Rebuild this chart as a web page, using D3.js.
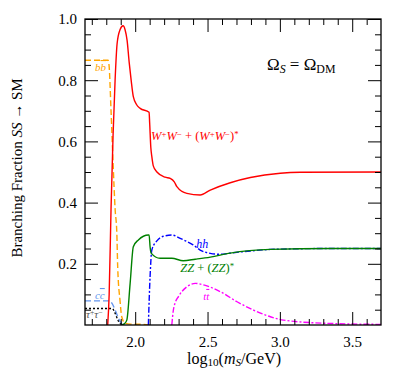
<!DOCTYPE html>
<html><head><meta charset="utf-8">
<script src="https://cdn.jsdelivr.net/npm/d3@7"></script>
<style>body{margin:0;background:#fff} svg{display:block} svg text{font-family:"Liberation Serif","DejaVu Serif",serif}</style>
</head><body><svg id="c" width="415" height="383"></svg>
<script>
// ---- data (x = log10(m_S/GeV), y = branching fraction) ----
const bbX = [1.653, 1.812, 1.819, 1.833, 1.847, 1.861, 1.873, 1.879, 1.895, 1.907, 1.930, 1.970, 2.050, 2.100];
const bbY = [0.865, 0.865, 0.850, 0.700, 0.530, 0.380, 0.300, 0.190, 0.080, 0.027, 0.006, 0.003, 0.002, 0.000];
const ccX = [1.653, 1.821, 1.907, 1.930];
const ccY = [0.079, 0.079, 0.005, 0.000];
const tauX = [1.653, 1.838, 1.895, 1.920];
const tauY = [0.054, 0.054, 0.005, 0.000];
const wwX = [1.810, 1.820, 1.833, 1.847, 1.861, 1.875, 1.895, 1.916, 1.930, 1.944, 1.958, 1.972, 1.987, 2.011, 2.034, 2.096, 2.100, 2.108, 2.115, 2.125, 2.150, 2.207, 2.242, 2.270, 2.288, 2.357, 2.449, 2.519, 2.657, 2.796, 3.003, 3.142, 3.699];
const wwY = [0.000, 0.100, 0.380, 0.620, 0.800, 0.920, 0.965, 0.978, 0.965, 0.930, 0.860, 0.800, 0.746, 0.719, 0.708, 0.695, 0.660, 0.580, 0.550, 0.520, 0.500, 0.483, 0.479, 0.468, 0.452, 0.430, 0.425, 0.441, 0.465, 0.482, 0.496, 0.499, 0.500];
const zzX = [1.907, 1.925, 1.942, 1.965, 1.987, 2.022, 2.091, 2.096, 2.103, 2.110, 2.172, 2.253, 2.332, 2.415, 2.519, 2.657, 2.934, 3.349, 3.699];
const zzY = [0.000, 0.004, 0.016, 0.136, 0.256, 0.278, 0.294, 0.294, 0.255, 0.235, 0.218, 0.218, 0.210, 0.215, 0.222, 0.235, 0.247, 0.250, 0.250];
const hhX = [2.091, 2.103, 2.115, 2.150, 2.195, 2.253, 2.311, 2.357, 2.400, 2.449, 2.519, 2.588, 2.657, 2.800, 2.934, 3.349, 3.699];
const hhY = [0.000, 0.160, 0.245, 0.275, 0.290, 0.294, 0.283, 0.273, 0.262, 0.245, 0.234, 0.231, 0.235, 0.242, 0.247, 0.250, 0.250];
const ttX = [2.253, 2.264, 2.276, 2.299, 2.357, 2.415, 2.472, 2.588, 2.704, 2.816, 2.934, 3.024, 3.349, 3.699];
const ttY = [0.000, 0.049, 0.072, 0.093, 0.125, 0.136, 0.131, 0.109, 0.076, 0.049, 0.027, 0.016, 0.005, 0.002];

const xMajor = [2.0, 2.5, 3.0, 3.5];
const yMajor = [0.2, 0.4, 0.6, 0.8, 1.0];
const xDomain = [1.653, 3.699];
const yDomain = [0, 1];

// ---- layout ----
const L = 85, R = 381, T = 19, B = 325;
const svg = d3.select('#c');
const x = d3.scaleLinear().domain(xDomain).range([L, R]);
const y = d3.scaleLinear().domain(yDomain).range([B, T]);

svg.append('clipPath').attr('id', 'clip').append('rect')
  .attr('x', L).attr('y', T).attr('width', R - L).attr('height', B - T);

const series = [
  {X: bbX, Y: bbY, color: '#ffa500', dash: '6,3', w: 1.4},
  {X: ccX, Y: ccY, color: '#6495ed', dash: '6,3', w: 1.4},
  {X: tauX, Y: tauY, color: '#000000', dash: '2,2', w: 1.3},
  {X: ttX, Y: ttY, color: '#ff00ff', dash: '6,2,2,2', w: 1.4},
  {X: hhX, Y: hhY, color: '#0000ff', dash: '6,2,2,2', w: 1.4},
  {X: zzX, Y: zzY, color: '#008000', dash: null, w: 1.4},
  {X: wwX, Y: wwY, color: '#ff0000', dash: null, w: 1.4},
];
const line = d3.line().x(d => x(d[0])).y(d => y(d[1])).curve(d3.curveMonotoneX);
const g = svg.append('g').attr('clip-path', 'url(#clip)');
series.forEach(s => {
  g.append('path').datum(s.X.map((v, i) => [v, s.Y[i]]))
    .attr('d', line).attr('fill', 'none').attr('stroke', s.color)
    .attr('stroke-width', s.w).attr('stroke-dasharray', s.dash);
});

// ---- axes ----
const xMinor = d3.range(17, 37).map(d => d / 10).filter(v => !xMajor.some(m => Math.abs(m - v) < 1e-6));
const yMinor = d3.range(1, 20).map(d => d / 20).filter(v => !yMajor.some(m => Math.abs(m - v) < 1e-6));
const fmt = d3.format('.1f');
function ax(gen, tr, vals, size, labels) {
  const a = svg.append('g').attr('transform', tr)
    .call(gen.tickValues(vals).tickSizeInner(-size).tickSizeOuter(0).tickPadding(8)
      .tickFormat(labels ? fmt : ''));
  a.attr('font-family', null).attr('font-size', null);
  a.select('.domain').remove();
  a.selectAll('line').attr('stroke', '#000').attr('stroke-width', 1);
  a.selectAll('text').style('font-size', '15px').attr('fill', '#000');
  return a;
}
ax(d3.axisBottom(x), `translate(0,${B})`, xMajor, 13, true).selectAll('text').attr('dy', '0.95em');
ax(d3.axisBottom(x), `translate(0,${B})`, xMinor, 6, false);
ax(d3.axisTop(x), `translate(0,${T})`, xMajor, 13, false);
ax(d3.axisTop(x), `translate(0,${T})`, xMinor, 6, false);
ax(d3.axisLeft(y), `translate(${L},0)`, yMajor, 13, true);
ax(d3.axisLeft(y), `translate(${L},0)`, yMinor, 6, false);
ax(d3.axisRight(y), `translate(${R},0)`, yMajor, 13, false);
ax(d3.axisRight(y), `translate(${R},0)`, yMinor, 6, false);

svg.append('rect').attr('x', L).attr('y', T).attr('width', R - L).attr('height', B - T)
  .attr('fill', 'none').attr('stroke', '#000').attr('stroke-width', 1.3);

// ---- rich text helper ----
function rich(sel, parts, size) {
  parts.forEach(p => {
    const [txt, st] = p;
    const t = sel.append('tspan').text(txt);
    if (st && st.includes('i')) t.attr('font-style', 'italic');
    if (st && st.includes('o')) t.style('text-decoration', 'overline');
    if (st && st.includes('b')) { t.attr('baseline-shift', '-22%').style('font-size', (size * 0.7) + 'px'); }
    if (st && st.includes('p')) { t.attr('baseline-shift', '38%').style('font-size', (size * 0.7) + 'px'); }
  });
  return sel;
}
function txt(xp, yp, size, color, parts, anchor) {
  const t = svg.append('text').attr('x', xp).attr('y', yp)
    .style('font-size', size + 'px').attr('fill', color)
    .attr('text-anchor', anchor || 'start');
  return rich(t, parts, size);
}

// axis titles
rich(svg.append('text').attr('transform', 'translate(22,168) rotate(-90)')
  .style('font-size', '15px').attr('text-anchor', 'middle'),
  [['Branching Fraction '], ['SS', 'i'], [' \u2192 SM']], 15);
txt(234, 364, 16, '#000', [['log'], ['10', 'b'], ['('], ['m', 'i'], ['S', 'ib'], ['/GeV)']], 'middle');
txt(267, 70, 17, '#000', [['\u03A9'], ['S', 'ib'], [' = \u03A9'], ['DM', 'b']]);

// curve labels (positioned in data coordinates)
txt(x(1.722), y(0.830), 11, '#ffa500', [['b', 'i'], ['b', 'io']]);
txt(x(1.722), y(0.085), 11, '#6495ed', [['c', 'i'], ['c', 'io']]);
txt(x(1.660), y(0.023), 11, '#555', [['\u03C4', 'i'], ['+', 'p'], ['\u03C4', 'i'], ['\u2212', 'p']]);
txt(x(2.110), y(0.605), 12.5, '#ff0000', [['W', 'i'], ['+', 'p'], ['W', 'i'], ['\u2212', 'p'], [' + ('], ['W', 'i'], ['+', 'p'], ['W', 'i'], ['\u2212', 'p'], [')'], ['*', 'p']]);
txt(x(2.422), y(0.252), 12, '#0000ff', [['hh', 'i']]);
txt(x(2.311), y(0.173), 12.5, '#008000', [['ZZ', 'i'], [' + ('], ['ZZ', 'i'], [')'], ['*', 'p']]);
txt(x(2.470), y(0.082), 11, '#ff00ff', [['t', 'i'], ['t', 'io']]);
</script></body></html>
